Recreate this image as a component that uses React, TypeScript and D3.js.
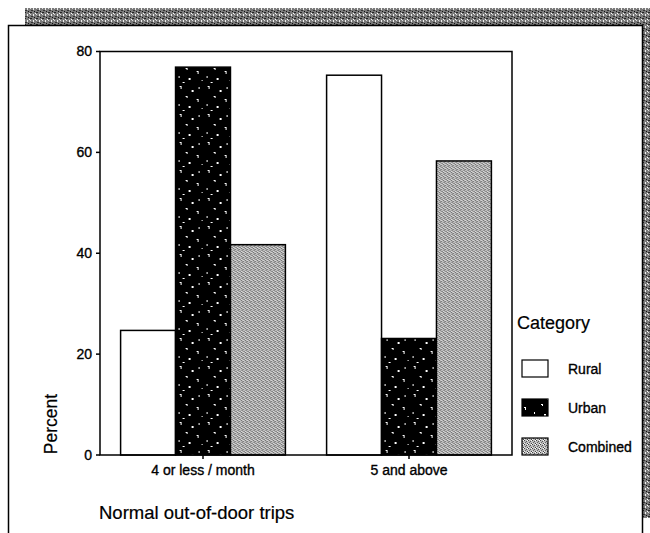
import React from "react";
import * as d3 from "d3";

const categories = ["4 or less / month", "5 and above"];
const seriesNames = ["Rural", "Urban", "Combined"];
const rural = [24.7, 75.3];
const urban = [76.9, 23.1];
const combined = [41.7, 58.3];
const yTicks = [0, 20, 40, 60, 80];

const W = 650, H = 533;
const plot = { left: 100, right: 512, top: 51.5, bottom: 455 };

const fills: Record<string, string> = {
  Rural: "#ffffff",
  Urban: "url(#urbanPat)",
  Combined: "url(#combPat)",
};

export default function App() {
  const x0 = d3.scaleBand<string>().domain(categories).range([plot.left, plot.right]).paddingInner(0.2).paddingOuter(0.1);
  const x1 = d3.scaleBand<string>().domain(seriesNames).range([0, x0.bandwidth()]);
  const y = d3.scaleLinear().domain([0, 80]).range([plot.bottom, plot.top]);
  const values: Record<string, number[]> = { Rural: rural, Urban: urban, Combined: combined };
  const font = "Arial, 'Liberation Sans', sans-serif";
  const txt = { stroke: "#000", strokeWidth: 0.35 } as const;

  return (
    <svg width={W} height={H} style={{ position: "absolute", left: 0, top: 0, background: "#fff" }} fontFamily={font}>
      <defs>
        <pattern id="urbanPat" width="28" height="28" patternUnits="userSpaceOnUse">
          <rect width="28" height="28" fill="#000" />
          <rect x="3" y="2" width="2" height="1" fill="#fff" />
          <rect x="4" y="3" width="1" height="2" fill="#fff" />
          <rect x="15" y="6" width="2" height="2" fill="#fff" />
          <rect x="22" y="3" width="1" height="2" fill="#fff" />
          <rect x="9" y="12" width="2" height="1" fill="#fff" />
          <rect x="10" y="13" width="1" height="1" fill="#fff" />
          <rect x="20" y="15" width="2" height="1" fill="#fff" />
          <rect x="21" y="16" width="1" height="2" fill="#fff" />
          <rect x="2" y="20" width="1" height="2" fill="#fff" />
          <rect x="12" y="22" width="2" height="2" fill="#fff" />
          <rect x="25" y="24" width="1" height="1" fill="#fff" />
          <rect x="6" y="26" width="2" height="1" fill="#fff" />
        </pattern>
        <pattern id="combPat" width="4" height="4" patternUnits="userSpaceOnUse">
          <rect width="4" height="4" fill="#bdbdbd" />
          <rect x="0" y="0" width="1" height="1" fill="#444" />
          <rect x="2" y="1" width="1" height="1" fill="#555" />
          <rect x="1" y="2" width="1" height="1" fill="#666" />
          <rect x="3" y="3" width="1" height="1" fill="#444" />
          <rect x="3" y="0" width="1" height="1" fill="#fff" />
          <rect x="0" y="3" width="1" height="1" fill="#eee" />
        </pattern>
        <pattern id="edgePat" width="6" height="6" patternUnits="userSpaceOnUse">
          <rect width="6" height="6" fill="#7a7a7a" />
          <rect x="0" y="0" width="2" height="1" fill="#222" />
          <rect x="3" y="2" width="1" height="2" fill="#eee" />
          <rect x="1" y="4" width="2" height="1" fill="#333" />
          <rect x="5" y="1" width="1" height="1" fill="#fff" />
          <rect x="4" y="5" width="1" height="1" fill="#111" />
          <rect x="0" y="2" width="1" height="1" fill="#ddd" />
        </pattern>
      </defs>

      {/* scanned page edges */}
      <rect x={25} y={8} width={W - 25} height={17} fill="url(#edgePat)" />
      <rect x={642} y={25} width={8} height={493} fill="url(#edgePat)" />
      <path d={`M8.5,${H} V25.5 H642.5 V${H}`} fill="none" stroke="#000" strokeWidth={1.5} />

      {/* bars */}
      {categories.map((c, ci) => (
        <g key={c} transform={`translate(${x0(c)},0)`}>
          {seriesNames.map((s) => (
            <rect
              key={s}
              x={x1(s)}
              y={y(values[s][ci])}
              width={x1.bandwidth()}
              height={y(0) - y(values[s][ci])}
              fill={fills[s]}
              stroke="#000"
              strokeWidth={1.5}
            />
          ))}
        </g>
      ))}

      {/* plot frame */}
      <rect x={plot.left} y={plot.top} width={plot.right - plot.left} height={plot.bottom - plot.top} fill="none" stroke="#000" strokeWidth={1.5} />

      {/* y ticks */}
      {yTicks.map((t) => (
        <g key={t}>
          <line x1={plot.left - 4} x2={plot.left} y1={y(t)} y2={y(t)} stroke="#000" strokeWidth={1.5} />
          <text x={92} y={y(t)} dy="0.35em" textAnchor="end" fontSize={14} {...txt}>{t}</text>
        </g>
      ))}

      {/* x ticks */}
      {categories.map((c) => {
        const cx = (x0(c) ?? 0) + x0.bandwidth() / 2;
        return (
          <g key={c}>
            <line x1={cx} x2={cx} y1={plot.bottom} y2={plot.bottom + 4} stroke="#000" strokeWidth={1.5} />
            <text x={cx} y={475} textAnchor="middle" fontSize={14} {...txt}>{c}</text>
          </g>
        );
      })}

      {/* axis titles */}
      <text transform="translate(57,424) rotate(-90)" textAnchor="middle" fontSize={17.5} {...txt} strokeWidth={0.2}>Percent</text>
      <text x={99} y={519} fontSize={18.5} {...txt} strokeWidth={0.2}>Normal out-of-door trips</text>

      {/* legend */}
      <text x={517} y={329} fontSize={18} {...txt} strokeWidth={0.2}>Category</text>
      {seriesNames.map((s, i) => (
        <g key={s}>
          <rect x={522} y={360 + i * 39} width={26} height={17} fill={fills[s]} stroke="#000" strokeWidth={1.2} />
          <text x={568} y={374 + i * 39} fontSize={14} {...txt}>{s}</text>
        </g>
      ))}
    </svg>
  );
}
